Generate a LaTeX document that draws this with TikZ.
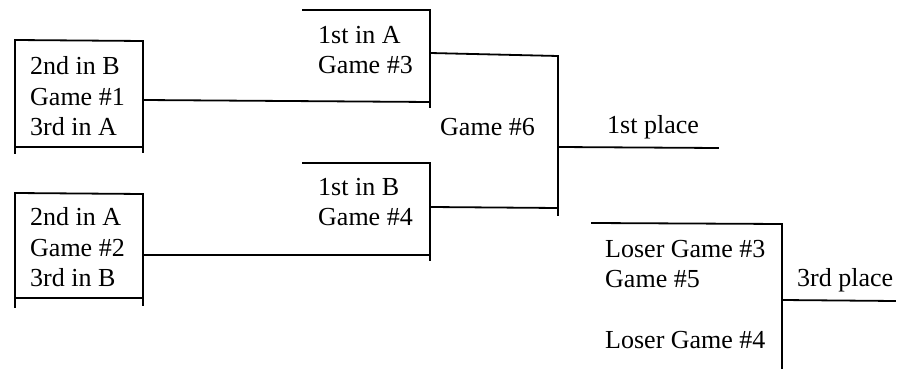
\documentclass[tikz,border=0pt]{standalone}
\usepackage{fontspec}
\setmainfont{Liberation Serif}
\begin{document}
\begin{tikzpicture}[x=1pt,y=-1pt,
  ln/.style={line width=1.8pt, line cap=rect},
  lbl/.style={anchor=west, inner sep=0pt, align=left, font=\fontsize{26}{30.5}\selectfont}]
\useasboundingbox (0,0) rectangle (899,379);
% ---------- box 1 ----------
\coordinate (b1tl) at (15,40);  \coordinate (b1tr) at (143,41);
\coordinate (b1bl) at (15,147); \coordinate (b1br) at (143,147);
\coordinate (b1le) at (15,153); \coordinate (b1re) at (143,152);
\coordinate (b1out) at (143,100);
\draw[ln] (b1tl) -- (b1tr);
\draw[ln] (b1bl) -- (b1br);
\draw[ln] (b1tl) -- (b1le);
\draw[ln] (b1tr) -- (b1re);
\node[lbl] (t1) at (30,96.5) {2nd in B\\Game \#1\\3rd in A};
% ---------- box 2 ----------
\coordinate (b2tl) at (15,193);  \coordinate (b2tr) at (143,194);
\coordinate (b2bl) at (15,298); \coordinate (b2br) at (143,298);
\coordinate (b2le) at (15,307); \coordinate (b2re) at (143,305);
\coordinate (b2out) at (143,255);
\draw[ln] (b2tl) -- (b2tr);
\draw[ln] (b2bl) -- (b2br);
\draw[ln] (b2tl) -- (b2le);
\draw[ln] (b2tr) -- (b2re);
\node[lbl] (t2) at (30,247.5) {2nd in A\\Game \#2\\3rd in B};
% ---------- game 3 ----------
\coordinate (g3a) at (303,10); \coordinate (g3b) at (430,10);
\coordinate (g3c) at (430,102); \coordinate (g3d) at (430,107);
\coordinate (g3out) at (430,53);
\draw[ln] (g3a) -- (g3b) -- (g3d);
\draw[ln] (b1out) -- (g3c);
\node[lbl] (t3) at (318,50) {1st in A\\Game \#3};
% ---------- game 4 ----------
\coordinate (g4a) at (303,163); \coordinate (g4b) at (430,163);
\coordinate (g4c) at (430,255); \coordinate (g4d) at (430,260);
\coordinate (g4out) at (430,207);
\draw[ln] (g4a) -- (g4b) -- (g4d);
\draw[ln] (b2out) -- (g4c);
\node[lbl] (t4) at (318,202) {1st in B\\Game \#4};
% ---------- game 6 ----------
\coordinate (g6a) at (558,56); \coordinate (g6b) at (558,208);
\coordinate (g6e) at (558,215);
\coordinate (g6out) at (558,147); \coordinate (first) at (718,148);
\draw[ln] (g3out) -- (g6a) -- (g6e);
\draw[ln] (g4out) -- (g6b);
\draw[ln] (g6out) -- (first);
\node[lbl] (t6) at (440,127) {Game \#6};
\node[lbl] (p1) at (607,127) {1st place};
% ---------- game 5 ----------
\coordinate (g5a) at (592,223); \coordinate (g5b) at (782,224);
\coordinate (g5e) at (782,368);
\coordinate (g5out) at (782,300); \coordinate (third) at (895,301);
\draw[ln] (g5a) -- (g5b) -- (g5e);
\draw[ln] (g5out) -- (third);
\node[lbl] (t5) at (605,294.5) {Loser Game \#3\\Game \#5\\[30.5pt]Loser Game \#4};
\node[lbl] (p3) at (797,280) {3rd place};
\end{tikzpicture}
\end{document}
